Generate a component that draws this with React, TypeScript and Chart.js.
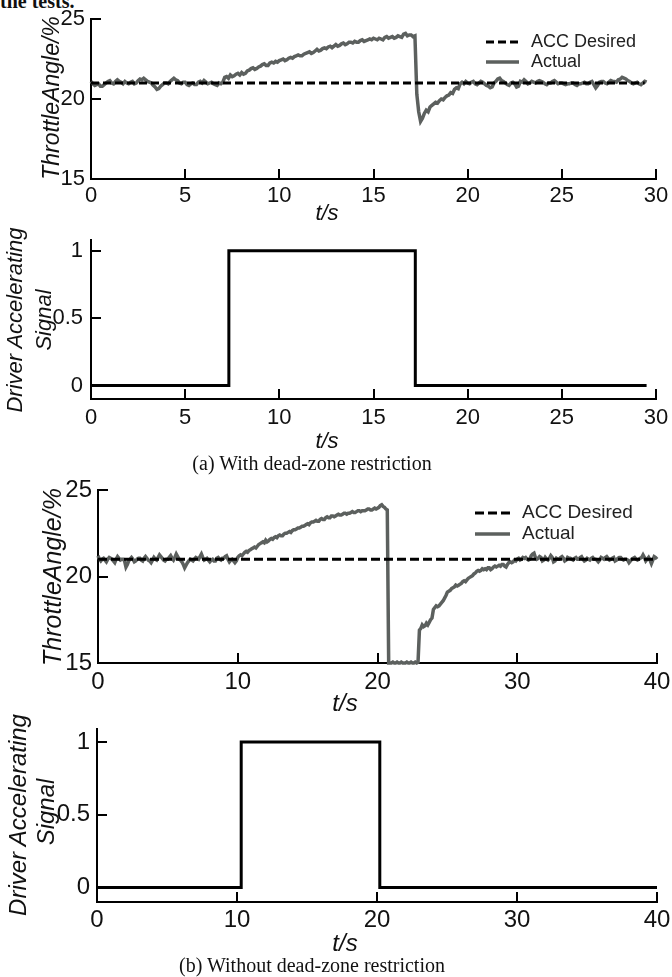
import React, { useEffect, useRef } from 'react';
import { Chart, registerables } from 'chart.js';

Chart.register(...registerables);

// ---------------- DATA ----------------
// (a) With dead-zone restriction
const actualStepA = 0.1; // s between samples
const actualA = [
  21.1, 20.95, 20.85, 20.9, 20.95, 20.8, 20.8, 20.9, 21.0, 21.1,
  21.15, 21.0, 20.95, 21.1, 21.2, 21.1, 21.05, 20.95, 21.1, 21.0,
  20.95, 21.05, 21.1, 20.95, 21.0, 21.15, 21.25, 21.2, 21.3, 21.2,
  21.1, 21.05, 21.0, 20.85, 20.75, 20.6, 20.65, 20.8, 20.9, 21.0,
  21.0, 20.95, 21.1, 21.2, 21.3, 21.2, 21.15, 21.0, 20.95, 21.05,
  21.05, 20.9, 20.85, 20.95, 21.0, 20.9, 20.9, 21.05, 21.1, 21.0,
  21.15, 21.05, 20.95, 21.0, 21.05, 20.95, 20.9, 20.85, 21.0, 20.95,
  21.05, 21.35, 21.4, 21.3, 21.5, 21.4, 21.45, 21.55, 21.6, 21.5,
  21.65, 21.55, 21.6, 21.75, 21.8, 21.9, 21.95, 21.85, 21.9, 22.0,
  22.05, 22.15, 22.2, 22.1, 22.1, 22.25, 22.3, 22.25, 22.35, 22.3,
  22.4, 22.45, 22.5, 22.4, 22.45, 22.55, 22.6, 22.55, 22.65, 22.7,
  22.75, 22.7, 22.7, 22.8, 22.85, 22.9, 22.95, 22.85, 22.9, 23.0,
  23.1, 23.0, 23.05, 23.15, 23.2, 23.15, 23.25, 23.3, 23.2, 23.3,
  23.4, 23.3, 23.35, 23.45, 23.5, 23.4, 23.45, 23.55, 23.55, 23.5,
  23.6, 23.55, 23.55, 23.65, 23.7, 23.6, 23.65, 23.7, 23.75, 23.7,
  23.8, 23.75, 23.7, 23.8, 23.75, 23.7, 23.85, 23.9, 23.8, 23.85,
  23.9, 23.8, 23.85, 23.95, 23.9, 23.85, 24.05, 24.1, 23.95, 24.0,
  24.0, 23.9, 23.95, 20.3, 19.2, 18.6, 18.8, 19.1, 19.3, 19.2,
  19.5, 19.6, 19.7, 19.8, 19.75, 19.9, 20.0, 19.95, 20.1, 20.2,
  20.25, 20.4, 20.35, 20.6, 20.7, 20.65, 20.95, 21.05, 20.95, 21.1,
  21.0, 20.95, 21.05, 21.1, 20.95, 20.9, 21.0, 21.1, 21.05, 20.95,
  20.85, 20.8, 20.7, 20.75, 21.0, 21.1, 21.25, 21.3, 21.15, 21.1,
  21.0, 20.9, 20.85, 21.0, 21.05, 20.95, 20.75, 20.8, 21.1, 21.05,
  21.2, 21.1, 20.95, 21.0, 21.1, 21.05, 21.0, 21.1, 21.15, 21.1,
  21.05, 20.95, 20.9, 21.0, 21.0, 21.1, 21.15, 21.05, 20.95, 21.0,
  21.0, 20.95, 20.9, 20.95, 20.95, 21.0, 21.0, 20.9, 20.85, 20.95,
  20.95, 21.0, 21.05, 20.95, 20.95, 21.05, 21.1, 20.9, 20.7, 20.85,
  21.05, 21.1, 21.1, 21.0, 20.95, 21.05, 21.15, 21.1, 21.1, 21.05,
  21.2, 21.25, 21.35, 21.3, 21.25, 21.15, 21.1, 21.0, 20.95, 21.0,
  21.05, 20.95, 20.9, 21.0, 21.1, 21.05,
];
const desiredTimesA = [0, 29.4];
const desiredValuesA = [21, 21];
const signalTimesA = [0, 7.32, 17.22, 29.5];
const signalValuesA = [0, 1, 0, 0];
const timeTicksA = [0, 5, 10, 15, 20, 25, 30];

// (b) Without dead-zone restriction
const actualStepB = 0.1;
const actualB = [
  21.2, 21.0, 20.9, 21.0, 21.05, 20.95, 20.85, 21.0, 21.1, 21.05,
  21.0, 20.9, 20.8, 21.0, 21.15, 21.05, 20.95, 21.0, 21.0, 20.9,
  20.55, 20.7, 20.9, 21.0, 21.1, 21.0, 20.85, 20.9, 21.0, 21.05,
  21.05, 20.95, 20.9, 21.05, 21.15, 21.05, 20.95, 20.9, 20.8, 20.95,
  21.1, 21.0, 20.95, 21.1, 21.25, 21.15, 21.05, 20.95, 20.9, 21.0,
  21.0, 21.1, 21.2, 21.05, 20.95, 21.1, 21.3, 21.15, 21.0, 20.95,
  20.85, 20.7, 20.5, 20.65, 20.8, 20.9, 21.0, 20.95, 20.9, 21.0,
  21.1, 21.05, 21.0, 21.15, 21.3, 21.1, 20.95, 21.0, 21.05, 20.95,
  20.85, 20.95, 21.0, 20.9, 20.9, 21.05, 21.1, 21.0, 20.95, 21.05,
  21.05, 21.15, 21.2, 21.0, 20.85, 20.95, 21.0, 20.9, 20.8, 20.9,
  21.1, 21.2, 21.25, 21.2, 21.3, 21.4, 21.45, 21.4, 21.5, 21.55,
  21.6, 21.65, 21.7, 21.65, 21.75, 21.85, 21.9, 21.95, 22.0, 21.95,
  22.1, 22.0, 22.05, 22.15, 22.2, 22.15, 22.25, 22.3, 22.25, 22.35,
  22.4, 22.35, 22.35, 22.45, 22.5, 22.5, 22.55, 22.6, 22.55, 22.65,
  22.7, 22.7, 22.75, 22.8, 22.8, 22.85, 22.9, 22.9, 22.95, 23.0,
  23.05, 23.0, 23.1, 23.15, 23.15, 23.2, 23.25, 23.2, 23.2, 23.3,
  23.35, 23.3, 23.3, 23.4, 23.45, 23.4, 23.4, 23.5, 23.5, 23.45,
  23.5, 23.55, 23.6, 23.55, 23.55, 23.6, 23.65, 23.65, 23.6, 23.65,
  23.65, 23.7, 23.75, 23.7, 23.7, 23.75, 23.8, 23.8, 23.75, 23.8,
  23.8, 23.8, 23.85, 23.9, 23.9, 23.85, 23.85, 23.9, 23.95, 23.9,
  23.95, 24.0, 24.1, 24.15, 24.05, 24.0, 23.9, 23.85, 15.0, 15.0,
  15.0, 15.05, 15.0, 15.0, 15.05, 15.0, 15.0, 15.05, 15.0, 15.0,
  15.0, 15.05, 15.0, 15.0, 15.05, 15.0, 15.0, 15.05, 15.0, 15.05,
  16.9, 17.0, 17.2, 17.1, 17.15, 17.3, 17.2, 17.35, 17.5, 17.6,
  18.1, 18.2, 18.3, 18.25, 18.3, 18.4, 18.5, 18.6, 18.75, 18.9,
  19.1, 19.15, 19.2, 19.3, 19.35, 19.4, 19.5, 19.45, 19.5, 19.55,
  19.6, 19.7, 19.75, 19.7, 19.8, 19.9, 19.95, 20.0, 20.05, 20.15,
  20.2, 20.3, 20.35, 20.3, 20.35, 20.45, 20.4, 20.45, 20.4, 20.5,
  20.5, 20.4, 20.45, 20.55, 20.6, 20.55, 20.6, 20.65, 20.6, 20.7,
  20.7, 20.6, 20.55, 20.7, 20.8, 20.85, 20.8, 20.85, 20.95, 20.9,
  21.0, 21.05, 20.95, 21.0, 21.1, 21.05, 21.1, 21.0, 20.95, 21.0,
  21.2, 21.3, 21.35, 21.1, 21.0, 21.05, 21.15, 21.1, 20.9, 20.95,
  21.1, 21.0, 20.95, 21.05, 21.2, 21.1, 20.85, 20.9, 21.05, 21.0,
  21.0, 21.1, 21.15, 21.05, 20.9, 20.95, 21.1, 21.05, 21.05, 21.0,
  20.95, 21.05, 21.1, 21.0, 21.0, 21.1, 21.15, 21.0, 20.9, 20.95,
  21.05, 21.0, 20.95, 21.05, 21.1, 21.0, 21.0, 20.95, 20.85, 20.95,
  21.1, 21.05, 21.0, 21.1, 21.15, 21.05, 20.95, 21.0, 21.05, 21.1,
  20.9, 20.95, 21.05, 21.1, 21.1, 21.0, 20.95, 21.0, 21.0, 20.95,
  20.8, 20.9, 21.0, 21.05, 21.1, 21.0, 20.95, 21.0, 21.05, 21.1,
  21.25, 21.1, 20.9, 21.0, 21.1, 20.95, 20.75, 20.95, 21.15, 21.1,
  21.0,
];
const desiredTimesB = [0, 40];
const desiredValuesB = [21, 21];
const signalTimesB = [0, 10.3, 20.2, 40];
const signalValuesB = [0, 1, 0, 0];
const timeTicksB = [0, 10, 20, 30, 40];

const throttleTicks = [15, 20, 25];
const signalTicks = [0, 0.5, 1];

// ---------------- STYLE ----------------
const SANS = "'Liberation Sans', Arial, sans-serif";
const SERIF = "'Liberation Serif', 'Times New Roman', serif";
const GRAY = '#5c605e';
const W = 672;

const legendPlugin = {
  id: 'insideLegend',
  afterDatasetsDraw(chart: any, _args: any, opts: any) {
    if (!opts || !opts.show) return;
    const ctx = chart.ctx;
    const items = chart.data.datasets.filter((d: any) => d.label);
    items.forEach((ds: any, i: number) => {
      const y = opts.y + i * opts.rowGap;
      ctx.save();
      ctx.strokeStyle = ds.borderColor;
      ctx.lineWidth = ds.borderWidth;
      ctx.setLineDash(ds.borderDash || []);
      ctx.beginPath();
      ctx.moveTo(opts.x0, y);
      ctx.lineTo(opts.x1, y);
      ctx.stroke();
      ctx.setLineDash([]);
      ctx.fillStyle = '#222';
      ctx.font = opts.font;
      ctx.textBaseline = 'middle';
      ctx.textAlign = 'left';
      ctx.fillText(ds.label, opts.textX, y);
      ctx.restore();
    });
  },
};

function pts(xs: number[], ys: number[]) {
  return xs.map((x, i) => ({ x, y: ys[i] }));
}
function series(vals: number[], step: number) {
  return vals.map((v, i) => ({ x: Math.round(i * step * 100) / 100, y: v }));
}

type Spec = {
  top: number; h: number;
  left: number; right: number; areaTop: number; areaBottom: number;
  xMin: number; xMax: number; xTicks: number[];
  yMin: number; yMax: number; yTicks: number[];
  tickSize: number; xPad: number; yPad: number;
  datasets: any[];
  legend?: any;
};

function buildConfig(s: Spec): any {
  const tickFont = { family: SANS, size: s.tickSize };
  const grid = { display: true, drawOnChartArea: false, drawTicks: true, tickLength: -10, color: '#000', lineWidth: 2 };
  const border = { display: true, color: '#000', width: 2 };
  return {
    type: 'line',
    data: { datasets: s.datasets },
    options: {
      responsive: false,
      animation: false,
      devicePixelRatio: 1,
      events: [],
      layout: { padding: { left: 0, right: W - s.right, top: s.areaTop - s.top, bottom: 0 } },
      plugins: {
        legend: { display: false },
        tooltip: { enabled: false },
        title: { display: false },
        insideLegend: s.legend || { show: false },
      },
      elements: { point: { radius: 0 }, line: { tension: 0 } },
      scales: {
        x: {
          type: 'linear', position: 'bottom', min: s.xMin, max: s.xMax,
          afterBuildTicks: (sc: any) => { sc.ticks = s.xTicks.map((v) => ({ value: v })); },
          afterFit: (sc: any) => { sc.height = s.top + s.h - s.areaBottom; sc.paddingLeft = 0; sc.paddingRight = 0; },
          grid, border,
          ticks: { font: tickFont, color: '#111', padding: s.xPad, autoSkip: false, maxRotation: 0, callback: (v: any) => String(v) },
        },
        y: {
          type: 'linear', position: 'left', min: s.yMin, max: s.yMax,
          afterBuildTicks: (sc: any) => { sc.ticks = s.yTicks.map((v) => ({ value: v })); },
          afterFit: (sc: any) => { sc.width = s.left; sc.paddingTop = 0; sc.paddingBottom = 0; },
          grid, border,
          ticks: { font: tickFont, color: '#111', padding: s.yPad, autoSkip: false, callback: (v: any) => String(v) },
        },
      },
    },
    plugins: [legendPlugin],
  };
}

function Plot({ spec }: { spec: Spec }) {
  const ref = useRef<HTMLCanvasElement | null>(null);
  useEffect(() => {
    if (!ref.current) return;
    const chart = new Chart(ref.current, buildConfig(spec));
    return () => chart.destroy();
  }, []);
  return (
    <canvas
      ref={ref}
      width={W}
      height={spec.h}
      style={{ position: 'absolute', left: 0, top: spec.top, width: W, height: spec.h, display: 'block' }}
    />
  );
}

function Txt({ x, y, size, text, rotate, italic, family, bold }: any) {
  return (
    <div
      style={{
        position: 'absolute', left: x, top: y, whiteSpace: 'nowrap',
        transform: `translate(-50%, -50%)${rotate ? ' rotate(-90deg)' : ''}`,
        fontFamily: family || SANS, fontSize: size, fontStyle: italic ? 'italic' : 'normal',
        fontWeight: bold ? 'bold' : 'normal', lineHeight: 1.15, color: '#111',
      }}
    >
      {text}
    </div>
  );
}

const throttleDatasets = (dt: number[], dv: number[], act: number[], step: number, dash: number[]) => [
  { label: 'ACC Desired', data: pts(dt, dv), borderColor: '#000', borderWidth: 3, borderDash: dash, pointRadius: 0, clip: 6 },
  { label: 'Actual', data: series(act, step), borderColor: GRAY, borderWidth: 3.5, pointRadius: 0, clip: 6 },
];
const signalDatasets = (st: number[], sv: number[]) => [
  { data: pts(st, sv), stepped: true, borderColor: '#000', borderWidth: 3, pointRadius: 0, clip: 6 },
];

const specs: Spec[] = [
  {
    top: 0, h: 232, left: 91, right: 656, areaTop: 19, areaBottom: 179,
    xMin: 0, xMax: 30, xTicks: timeTicksA, yMin: 15, yMax: 25, yTicks: throttleTicks,
    tickSize: 22, xPad: 14, yPad: 16,
    datasets: throttleDatasets(desiredTimesA, desiredValuesA, actualA, actualStepA, [8, 4]),
    legend: { show: true, x0: 486, x1: 519, textX: 531, y: 42, rowGap: 20, font: `18px ${SANS}` },
  },
  {
    top: 232, h: 215, left: 91, right: 656, areaTop: 240, areaBottom: 399,
    xMin: 0, xMax: 30, xTicks: timeTicksA, yMin: -0.1, yMax: 1.08, yTicks: signalTicks,
    tickSize: 22, xPad: 16, yPad: 18,
    datasets: signalDatasets(signalTimesA, signalValuesA),
  },
  {
    top: 470, h: 225, left: 98, right: 657, areaTop: 490, areaBottom: 663,
    xMin: 0, xMax: 40, xTicks: timeTicksB, yMin: 15, yMax: 25, yTicks: throttleTicks,
    tickSize: 24, xPad: 15, yPad: 16,
    datasets: throttleDatasets(desiredTimesB, desiredValuesB, actualB, actualStepB, [9, 4]),
    legend: { show: true, x0: 475, x1: 510, textX: 522, y: 43, rowGap: 21, font: `19px ${SANS}` },
  },
  {
    top: 712, h: 230, left: 97, right: 657, areaTop: 729, areaBottom: 902,
    xMin: 0, xMax: 40, xTicks: timeTicksB, yMin: -0.1, yMax: 1.09, yTicks: signalTicks,
    tickSize: 24, xPad: 14, yPad: 17,
    datasets: signalDatasets(signalTimesB, signalValuesB),
  },
];

export default function App() {
  return (
    <div style={{ position: 'absolute', left: 0, top: 0, width: W, height: 977, background: '#fff', overflow: 'hidden' }}>
      <div style={{ position: 'absolute', left: 0, top: -10, fontFamily: SERIF, fontWeight: 'bold', fontSize: 20, whiteSpace: 'nowrap', color: '#111' }}>
        the tests.
      </div>
      {specs.map((s, i) => <Plot key={i} spec={s} />)}
      <Txt x={51} y={98} size={23} text="ThrottleAngle/%" rotate italic />
      <Txt x={327} y={213} size={22} text="t/s" italic />
      <Txt x={15} y={320} size={22} text="Driver Accelerating" rotate italic />
      <Txt x={44} y={320} size={22} text="Signal" rotate italic />
      <Txt x={327} y={441} size={22} text="t/s" italic />
      <Txt x={312} y={463} size={20} text="(a) With dead-zone restriction" family={SERIF} />
      <Txt x={52} y={577} size={25} text="ThrottleAngle/%" rotate italic />
      <Txt x={345} y={703} size={24} text="t/s" italic />
      <Txt x={18} y={815} size={24} text="Driver Accelerating" rotate italic />
      <Txt x={46} y={812} size={24} text="Signal" rotate italic />
      <Txt x={345} y={943} size={24} text="t/s" italic />
      <Txt x={312} y={965} size={20} text="(b) Without dead-zone restriction" family={SERIF} />
    </div>
  );
}
